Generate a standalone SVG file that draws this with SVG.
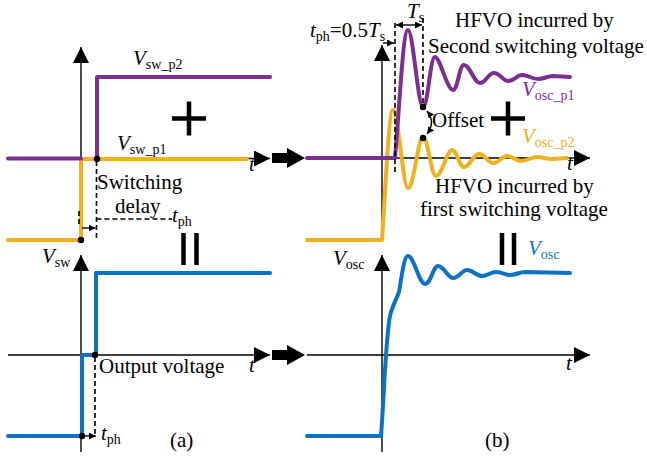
<svg xmlns="http://www.w3.org/2000/svg" width="647" height="460" viewBox="0 0 647 460" font-family="'Liberation Serif', 'Times New Roman', 'DejaVu Serif', serif">
<style>
text{font-family:'Liberation Serif','Times New Roman','DejaVu Serif',serif;font-size:21px;fill:#000}
.i{font-style:italic}
.sub{font-size:14px;font-style:normal}
.ax{stroke:#000;stroke-width:1.4;fill:none}
.pu{stroke:#7B2F8E;stroke-width:4;fill:none;stroke-linejoin:round;stroke-linecap:round}
.or{stroke:#EFB11F;stroke-width:4;fill:none;stroke-linejoin:round;stroke-linecap:round}
.bl{stroke:#0E71C1;stroke-width:4;fill:none;stroke-linejoin:round;stroke-linecap:round}
.da{stroke:#000;stroke-width:1.6;fill:none;stroke-dasharray:5,3}
.thin{stroke:#000;stroke-width:1.4;fill:none}
.sym{stroke:#000;stroke-width:4.5;fill:none}
.dot{fill:#000}
.big{fill:#000}
.cp{fill:#7B2F8E}
.co{fill:#EFB11F}
.cb{fill:#0E71C1}
</style>
<defs>
<marker id="ah" viewBox="0 0 10 10" refX="10" refY="5" markerWidth="16" markerHeight="16" markerUnits="userSpaceOnUse" orient="auto-start-reverse">
<path d="M0,0 L10,5 L0,10 Z" fill="#000"/>
</marker>
<marker id="sa" viewBox="0 0 10 10" refX="10" refY="5" markerWidth="7" markerHeight="7" markerUnits="userSpaceOnUse" orient="auto-start-reverse">
<path d="M0,0 L10,5 L0,10 Z" fill="#000"/>
</marker>
</defs>

<g id="panel-a-top">
<line class="ax" x1="8" y1="158.5" x2="270" y2="158.5" marker-end="url(#ah)"/>
<line class="ax" x1="81" y1="240" x2="81" y2="47" marker-end="url(#ah)"/>
<path class="or" d="M8,240 L81,240 L81,159 L247,159"/>
<path class="pu" d="M8,158.5 L81,158.5"/>
<path class="pu" d="M97,158.5 L97,77 L270,77"/>
<line class="da" x1="96.5" y1="161" x2="96.5" y2="238"/>
<line class="da" x1="96.5" y1="219" x2="172" y2="219"/>
<line class="da" x1="79" y1="211" x2="79" y2="226"/>
<line class="thin" x1="82" y1="228" x2="95.5" y2="228" marker-end="url(#sa)"/>
<circle class="dot" cx="97" cy="159" r="3.2"/>
<circle class="dot" cx="81" cy="240" r="3.2"/>
<text x="133" y="65"><tspan class="i">V</tspan><tspan class="sub" dy="4">sw_p2</tspan></text>
<text x="117" y="150"><tspan class="i">V</tspan><tspan class="sub" dy="4">sw_p1</tspan></text>
<text x="97" y="189">Switching</text>
<text x="115" y="213">delay</text>
<text x="172" y="222"><tspan class="i">t</tspan><tspan class="sub" dy="4">ph</tspan></text>
<text class="i" x="249" y="171">t</text>
<path class="sym" d="M172,118.5 H206 M189,101.5 V135.5"/>
</g>

<g id="panel-a-bottom">
<line class="ax" x1="8" y1="355" x2="270" y2="355" marker-end="url(#ah)"/>
<line class="ax" x1="81" y1="452" x2="81" y2="255" marker-end="url(#ah)"/>
<path class="bl" d="M8,436 L82,436 L82,355 L96,355 L96,273 L270,273"/>
<line class="da" x1="95" y1="357" x2="95" y2="434"/>
<line class="thin" x1="83" y1="436" x2="96" y2="436" marker-end="url(#sa)"/>
<circle class="dot" cx="95" cy="355" r="3.2"/>
<circle class="dot" cx="82" cy="436" r="3.2"/>
<text x="42" y="263"><tspan class="i">V</tspan><tspan class="sub" dy="4">sw</tspan></text>
<text x="99" y="373">Output voltage</text>
<text x="101" y="440"><tspan class="i">t</tspan><tspan class="sub" dy="4">ph</tspan></text>
<text class="i" x="249" y="372">t</text>
<text x="170" y="447">(a)</text>
<path class="sym" d="M183.5,233 V265 M196.5,233 V265"/>
</g>

<g id="transition-arrows">
<path class="big" d="M272,153 H287 V148 L305,158 L287,168 V163 H272 Z"/>
<path class="big" d="M272,350 H287 V345 L305,355 L287,365 V360 H272 Z"/>
</g>

<g id="panel-b-top">
<line class="ax" x1="307" y1="158" x2="590" y2="158" marker-end="url(#ah)"/>
<line class="ax" x1="382" y1="240" x2="382" y2="45" marker-end="url(#ah)"/>
<path class="or" d="M307,240 L382,240 C386,180 389,110 393,110 C398,110 403,188 408,188 C414,188 418,137 423,137 C428,137 431,176 436,176 C442,176 447,150 452,150 C457,150 459,167 464,167 C470,167 473,154 479,154 C485,154 488,163 493,163 C499,163 502,156 507,156 C513,156 516,161 521,161 C527,161 531,157 537,157 C543,157 546,159 552,159 L567,158"/>
<path class="pu" d="M307,158 L395,158 C400,100 403,30 408,30 C413,30 418,107 423,107 C428,107 430,57 435,57 C440,57 447,90 453,90 C458,90 459,65 464,65 C470,65 474,83 480,83 C486,83 488,73 494,73 C500,73 503,81 508,81 C514,81 517,75 522,75 C528,75 532,79 538,79 C544,79 547,76 553,76 L570,77"/>
<line class="da" x1="395" y1="23" x2="395" y2="173"/>
<line class="da" x1="423" y1="18" x2="423" y2="106"/>
<line class="thin" x1="396" y1="25" x2="422" y2="25" marker-start="url(#sa)" marker-end="url(#sa)"/>
<line class="thin" x1="383" y1="43" x2="394" y2="43" marker-end="url(#sa)"/>
<path class="thin" d="M427,111 Q436,122 427,134" marker-start="url(#sa)" marker-end="url(#sa)"/>
<circle class="dot" cx="423" cy="107" r="3.2"/>
<circle class="dot" cx="423" cy="138" r="3.2"/>
<text x="310" y="37"><tspan class="i">t</tspan><tspan class="sub" dy="4">ph</tspan><tspan dy="-4">=0.5</tspan><tspan class="i">T</tspan><tspan class="sub" dy="4">s</tspan></text>
<text x="407" y="18"><tspan class="i">T</tspan><tspan class="sub" dy="4">s</tspan></text>
<text x="455" y="27">HFVO incurred by</text>
<text x="428" y="53">Second switching voltage</text>
<text x="432" y="127">Offset</text>
<text class="cp" x="522" y="96"><tspan class="i">V</tspan><tspan class="sub" dy="4">osc_p1</tspan></text>
<text class="co" x="522" y="143"><tspan class="i">V</tspan><tspan class="sub" dy="4">osc_p2</tspan></text>
<text x="435" y="193">HFVO incurred by</text>
<text x="420" y="216">first switching voltage</text>
<text class="i" x="567" y="170">t</text>
<path class="sym" d="M491,118.5 H525 M508,101.5 V135.5"/>
</g>

<g id="panel-b-bottom">
<line class="ax" x1="307" y1="355" x2="590" y2="355" marker-end="url(#ah)"/>
<line class="ax" x1="382" y1="452" x2="382" y2="255" marker-end="url(#ah)"/>
<path class="bl" d="M307,436 L381,436 C384,400 386,325 391,312 C394,303 396,300 399,292 C402,275 404,256 408,256 C414,256 419,284 425,284 C431,284 433,266 438,266 C444,266 448,278 453,278 C459,278 462,270 467,270 C473,270 476,276 482,276 C488,276 490,272 496,272 C502,272 505,275 510,275 C516,275 519,272 525,272 L570,273"/>
<text x="333" y="265"><tspan class="i">V</tspan><tspan class="sub" dy="4">osc</tspan></text>
<text class="cb" x="528" y="255"><tspan class="i">V</tspan><tspan class="sub" dy="4">osc</tspan></text>
<text class="i" x="566" y="370">t</text>
<text x="485" y="447">(b)</text>
<path class="sym" d="M502,233 V265 M514,233 V265"/>
</g>
</svg>
